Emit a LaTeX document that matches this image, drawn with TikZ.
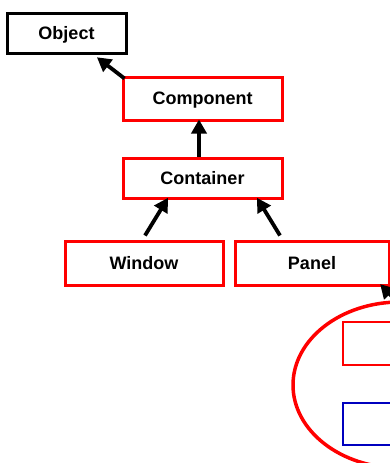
\documentclass[tikz,border=0pt]{standalone}
\usepackage{fontspec}
\setmainfont{Liberation Sans}
\usetikzlibrary{arrows.meta,calc,shapes.geometric}
\begin{document}
\begin{tikzpicture}[x=1pt,y=-1pt,
  cls/.style={draw=red,line width=3pt,rectangle,inner sep=0pt,
    font=\fontsize{18}{20}\selectfont\bfseries,text depth=-2pt},
  objbox/.style={cls,draw=black},
  inbox/.style={draw=red,line width=2pt,rectangle,inner sep=0pt},
  bluebox/.style={inbox,draw=blue!75!black},
  inh/.style={line width=3.8pt,-{Triangle[length=14pt,width=15pt]},shorten >=-2pt}]
\path[use as bounding box] (0,0) rectangle (390,463);
\clip (0,0) rectangle (390,463);
\fill[white] (0,0) rectangle (390,463);
\node[objbox,minimum width=119pt,minimum height=40pt] (obj) at (66.5,33) {Object};
\node[cls,minimum width=159pt,minimum height=43pt] (comp) at (202.5,98.5) {Component};
\node[cls,minimum width=159pt,minimum height=40pt] (cont) at (202.5,178) {Container};
\node[cls,minimum width=158pt,minimum height=44pt] (win) at (144,263) {Window};
\node[cls,minimum width=154pt,minimum height=44pt] (pan) at (312,263) {Panel};
\node[inbox,minimum width=107pt,minimum height=43pt] (app) at (396.5,343.5) {};
\node[bluebox,minimum width=107pt,minimum height=42pt] (japp) at (396.5,424) {};
\node[draw=red,line width=3.5pt,ellipse,minimum width=214pt,minimum height=166pt,inner sep=0pt] (grp) at (400,385) {};
\coordinate (tail) at (404,309);
\draw[inh] ($(comp.north west)+(3,3)$) -- ($(obj.south east)+(-29,4)$);
\draw[inh] ($(cont.north)+(-3.5,0)$) -- ($(comp.south)+(-3.5,0)$);
\draw[inh] ($(win.north)+(1,-4)$) -- ($(cont.south)+(-35.5,0)$);
\draw[inh] ($(pan.north)+(-32,-4)$) -- ($(cont.south)+(55.5,0)$);
\draw[inh] (tail) -- ($(pan.south east)+(-9,-1)$);
\end{tikzpicture}
\end{document}
